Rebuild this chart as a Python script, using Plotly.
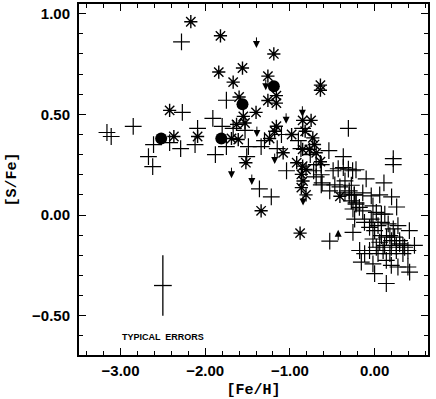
import plotly.graph_objects as go

# crosses
plus_feh = [-3.16, -3.11, -2.85, -2.28, -2.27, -2.61, -2.67, -2.62, -2.42, -2.29,
            -2.09, -2.12, -1.91, -1.88, -1.80, -1.75, -1.75, -1.67, -1.53, -1.49,
            -1.51, -1.34, -1.30, -1.36, -1.22, -1.10, -1.15, -1.04, -0.90, -0.85,
            -0.87, -0.76, -0.72, -0.69, -0.54, -0.31, -0.37,
            -0.63, -0.62, -0.69, -0.63, -0.63, -0.53, -0.47, -0.41, -0.35, -0.30,
            -0.24, -0.22, -0.49, -0.43, -0.37, -0.31, -0.26, -0.22,
            0.22, 0.22, -0.10, 0.11, -0.275, -0.53,
            -0.35, -0.30, -0.24, -0.14, -0.04, 0.06, 0.20, 0.26,
            -0.275, -0.22, -0.18, -0.14, -0.256, -0.236,
            -0.02, 0.02, 0.08, 0.12,
            -0.12, -0.06, -0.02, 0.00, 0.04,
            0.16, 0.22, 0.275, -0.256,
            -0.02, 0.08, 0.14, 0.20, 0.295, 0.354, 0.41, 0.47,
            -0.177, -0.118, -0.06, 0.04, 0.10, 0.18, 0.256, 0.334, 0.393,
            -0.157, -0.02, 0.138, 0.197, 0.275, 0.393, 0.413,
            0.00, 0.138,
            -0.04, 0.08, 0.18, 0.236, 0.295, 0.334, 0.118, 0.06, 0.02, 0.256, 0.197]
plus_sfe = [0.41, 0.39, 0.44, 0.86, 0.51, 0.35, 0.29, 0.24, 0.36, 0.33,
            0.43, 0.35, 0.48, 0.30, 0.44, 0.57, 0.34, 0.43, 0.42, 0.34,
            0.29, 0.34, 0.37, 0.13, 0.09, 0.40, 0.33, 0.22, 0.37, 0.43,
            0.33, 0.30, 0.22, 0.25, 0.32, 0.43, 0.29,
            0.25, 0.16, 0.19, 0.20, 0.15, 0.12, 0.15, 0.14, 0.17, 0.12,
            0.10, 0.06, 0.22, 0.23, 0.235, 0.228, 0.22, 0.225,
            0.28, 0.25, 0.18, 0.16, 0.148, -0.13,
            0.11, 0.10, 0.10, 0.11, 0.095, 0.10, 0.09, 0.04,
            0.07, 0.054, 0.038, 0.021, 0.03, -0.02,
            0.046, 0.013, 0.005, 0.005,
            -0.036, -0.061, -0.036, -0.077, -0.053,
            -0.044, -0.069, -0.053, -0.086,
            -0.119, -0.102, -0.11, -0.127, -0.143, -0.16, -0.077, -0.151,
            -0.176, -0.192, -0.176, -0.192, -0.176, -0.192, -0.176, -0.192, -0.176,
            -0.234, -0.242, -0.225, -0.25, -0.258, -0.258, -0.283,
            -0.291, -0.34,
            -0.02, -0.036, -0.102, -0.11, -0.127, -0.151, -0.151, -0.135, -0.16, -0.151, -0.16]

# asterisks
star_feh = [-2.17, -1.82, -1.19, -1.84, -1.56, -1.67, -1.26, -0.64, -0.64, -1.60,
            -1.26, -1.16, -1.16, -2.42, -1.40, -1.55, -1.53, -1.63, -2.37, -2.09,
            -1.69, -1.61, -1.16, -1.18, -1.24, -0.98, -0.85, -0.75, -0.82, -0.73,
            -0.71, -0.77, -0.69, -0.85, -1.08, -0.92, -0.85, -0.81, -0.865, -0.845,
            -0.865, -0.81, -0.64, -0.41, -1.34, -0.88, -1.52]
star_sfe = [0.96, 0.89, 0.80, 0.71, 0.73, 0.66, 0.69, 0.645, 0.62, 0.586,
            0.569, 0.593, 0.556, 0.52, 0.51, 0.49, 0.457, 0.45, 0.39, 0.39,
            0.38, 0.375, 0.441, 0.416, 0.38, 0.40, 0.47, 0.47, 0.416, 0.383,
            0.35, 0.326, 0.309, 0.326, 0.309, 0.26, 0.243, 0.227, 0.202, 0.169,
            0.136, 0.10, 0.265, 0.093, 0.021, -0.09, 0.26]

# filled circles
dot_feh = [-2.52, -1.81, -1.56, -1.19]
dot_sfe = [0.38, 0.38, 0.55, 0.64]

# upper limits (arrow tips)
lim_feh = [-1.395, -1.285, -1.045, -0.853, -1.39, -1.18, -1.69, -1.45, -0.845]
lim_sfe = [0.83, 0.62, 0.453, 0.488, 0.387, 0.253, 0.183, 0.149, 0.047]

# lower limit (arrow tip)
up_feh = [-0.43]
up_sfe = [-0.073]

# typical error bar
err_feh = [-2.5]
err_sfe = [-0.35]
err_x = [0.105]
err_y = [0.15]

fig = go.Figure()

fig.add_trace(go.Scatter(
    x=plus_feh, y=plus_sfe, mode='markers',
    marker={'symbol': 'cross-thin-open', 'size': 12, 'color': 'black',
            'line': {'color': 'black', 'width': 1.2}},
))
fig.add_trace(go.Scatter(
    x=star_feh, y=star_sfe, mode='markers',
    marker={'symbol': 'asterisk-open', 'size': 11, 'color': 'black',
            'line': {'color': 'black', 'width': 1.4}},
))
fig.add_trace(go.Scatter(
    x=dot_feh, y=dot_sfe, mode='markers',
    marker={'symbol': 'circle', 'size': 12, 'color': 'black'},
))
fig.add_trace(go.Scatter(
    x=err_feh, y=err_sfe, mode='markers',
    marker={'size': 1, 'color': 'black'},
    error_x={'type': 'data', 'array': err_x, 'width': 0, 'thickness': 1.3, 'color': 'black'},
    error_y={'type': 'data', 'array': err_y, 'width': 0, 'thickness': 1.3, 'color': 'black'},
))

arrows = []
for x, y in zip(lim_feh, lim_sfe):
    arrows.append(dict(x=x, y=y, xref='x', yref='y', ax=0, ay=-12, text='',
                       showarrow=True, arrowhead=2, arrowsize=1.4, arrowwidth=1,
                       arrowcolor='black'))
for x, y in zip(up_feh, up_sfe):
    arrows.append(dict(x=x, y=y, xref='x', yref='y', ax=0, ay=12, text='',
                       showarrow=True, arrowhead=2, arrowsize=1.4, arrowwidth=1,
                       arrowcolor='black'))

tickfont = {'family': 'Liberation Sans', 'size': 15, 'color': 'black', 'weight': 'bold'}
titlefont = {'family': 'Liberation Mono', 'size': 15, 'color': 'black', 'weight': 'bold'}

fig.update_layout(
    width=436, height=399,
    margin={'l': 79, 'r': 8, 't': 2, 'b': 44},
    plot_bgcolor='white', paper_bgcolor='white',
    showlegend=False,
    annotations=arrows + [{
        'x': -2.5, 'y': -0.605, 'xref': 'x', 'yref': 'y',
        'text': 'TYPICAL  ERRORS', 'showarrow': False,
        'font': {'family': 'Liberation Sans', 'size': 9, 'color': 'black', 'weight': 'bold'},
    }],
)
fig.update_xaxes(
    range=[-3.49, 0.63], tick0=0, dtick=1, tickformat='.2f',
    ticks='inside', ticklen=7, tickwidth=1.3, tickcolor='black',
    minor={'dtick': 0.2, 'ticks': 'inside', 'ticklen': 4, 'tickwidth': 1.1, 'tickcolor': 'black'},
    showline=True, linewidth=2, linecolor='black', mirror='ticks',
    showgrid=False, zeroline=False, tickfont=tickfont, ticklabelstandoff=1,
    title={'text': '[Fe/H]', 'font': titlefont, 'standoff': 5},
)
fig.update_yaxes(
    range=[-0.695, 1.048], tick0=0, dtick=0.5, tickformat='.2f',
    ticks='inside', ticklen=7, tickwidth=1.3, tickcolor='black',
    minor={'dtick': 0.1, 'ticks': 'inside', 'ticklen': 4, 'tickwidth': 1.1, 'tickcolor': 'black'},
    showline=True, linewidth=2, linecolor='black', mirror='ticks',
    showgrid=False, zeroline=False, tickfont=tickfont, ticklabelstandoff=4,
    title={'text': '[S/Fe]', 'font': titlefont, 'standoff': 12},
)

fig.write_html("out.html", config={'displayModeBar': False},
               post_script="document.body.style.margin='0px';")
